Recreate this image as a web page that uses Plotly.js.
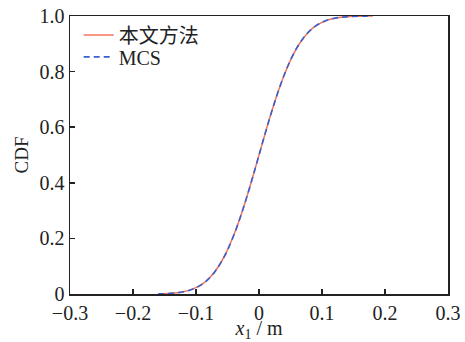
<!DOCTYPE html>
<html>
<head>
<meta charset="utf-8">
<script src="https://cdn.plot.ly/plotly-3.0.1.min.js"></script>
<style>html,body{margin:0;padding:0;background:#fff;}#chart{width:465px;height:342px;}</style>
</head>
<body>
<div id="chart"></div>
<script>
const xValues = [-0.16,-0.15,-0.14,-0.13,-0.12,-0.11,-0.10,-0.09,-0.08,-0.07,-0.06,-0.05,-0.04,-0.03,-0.02,-0.01,0.00,0.01,0.02,0.03,0.04,0.05,0.06,0.07,0.08,0.09,0.10,0.11,0.12,0.13,0.14,0.15,0.16,0.17,0.18];
const cdfMethod = [0.0007,0.0013,0.0026,0.0047,0.0082,0.0139,0.0228,0.0359,0.0548,0.0808,0.1151,0.1587,0.2119,0.2743,0.3446,0.4207,0.5000,0.5793,0.6554,0.7257,0.7881,0.8413,0.8849,0.9192,0.9452,0.9641,0.9772,0.9861,0.9918,0.9953,0.9974,0.9987,0.9993,0.9997,0.9999];
const cdfMCS = [0.0006,0.0012,0.0025,0.0046,0.0080,0.0136,0.0224,0.0355,0.0543,0.0802,0.1145,0.1580,0.2112,0.2737,0.3440,0.4201,0.4995,0.5789,0.6551,0.7255,0.7880,0.8413,0.8850,0.9194,0.9454,0.9643,0.9774,0.9862,0.9919,0.9954,0.9975,0.9988,0.9994,0.9997,0.9999];
const seriesNames = ['本文方法','MCS'];
const xTickVals = [-0.3,-0.2,-0.1,0,0.1,0.2,0.3];
const yTickVals = [0,0.2,0.4,0.6,0.8,1.0];
const yTickText = ['0','0.2','0.4','0.6','0.8','1.0'];

const fontFam = 'Liberation Serif, Times New Roman, Noto Sans CJK SC, serif';

const traces = [
  {x: xValues, y: cdfMethod, name: seriesNames[0], mode: 'lines', legend: 'legend', line: {color: '#f4735a', width: 1.5, shape: 'spline'}},
  {x: xValues, y: cdfMCS, name: seriesNames[1], mode: 'lines', legend: 'legend2', line: {color: '#3b5fcf', width: 1.6, dash: '6px,4px', shape: 'spline'}}
];

const legFont = {family: fontFam, size: 20, color: '#222'};
const layout = {
  width: 465, height: 342,
  margin: {l: 70, r: 17, t: 16, b: 48},
  paper_bgcolor: '#fff', plot_bgcolor: '#fff',
  font: {family: fontFam, size: 19, color: '#222'},
  showlegend: true,
  legend: {x: 0.023, y: 0.932, xanchor: 'left', yanchor: 'middle', bgcolor: 'rgba(0,0,0,0)', font: legFont, itemwidth: 30},
  legend2: {x: 0.023, y: 0.853, xanchor: 'left', yanchor: 'middle', bgcolor: 'rgba(0,0,0,0)', font: legFont, itemwidth: 30},
  xaxis: {
    range: [-0.3, 0.3], tickvals: xTickVals, ticks: 'inside', ticklen: 5, tickwidth: 1.5, tickcolor: '#222',
    showline: true, linecolor: '#222', linewidth: 1.5, mirror: true, showgrid: false, zeroline: false,
    tickfont: {family: fontFam, size: 20, color: '#222'},
    title: {text: '<i>x</i><sub>1</sub> / m', font: {family: fontFam, size: 20, color: '#222'}, standoff: 0}
  },
  yaxis: {
    range: [0, 1.0], tickvals: yTickVals, ticktext: yTickText, ticks: 'inside', ticklen: 5, tickwidth: 1.5, tickcolor: '#222',
    showline: true, linecolor: '#222', linewidth: 1.5, mirror: true, showgrid: false, zeroline: false,
    tickfont: {family: fontFam, size: 20, color: '#222'},
    title: {text: 'CDF', font: {family: fontFam, size: 19, color: '#222'}, standoff: 6}
  }
};

Plotly.newPlot('chart', traces, layout, {staticPlot: true, displayModeBar: false});
</script>
</body>
</html>
